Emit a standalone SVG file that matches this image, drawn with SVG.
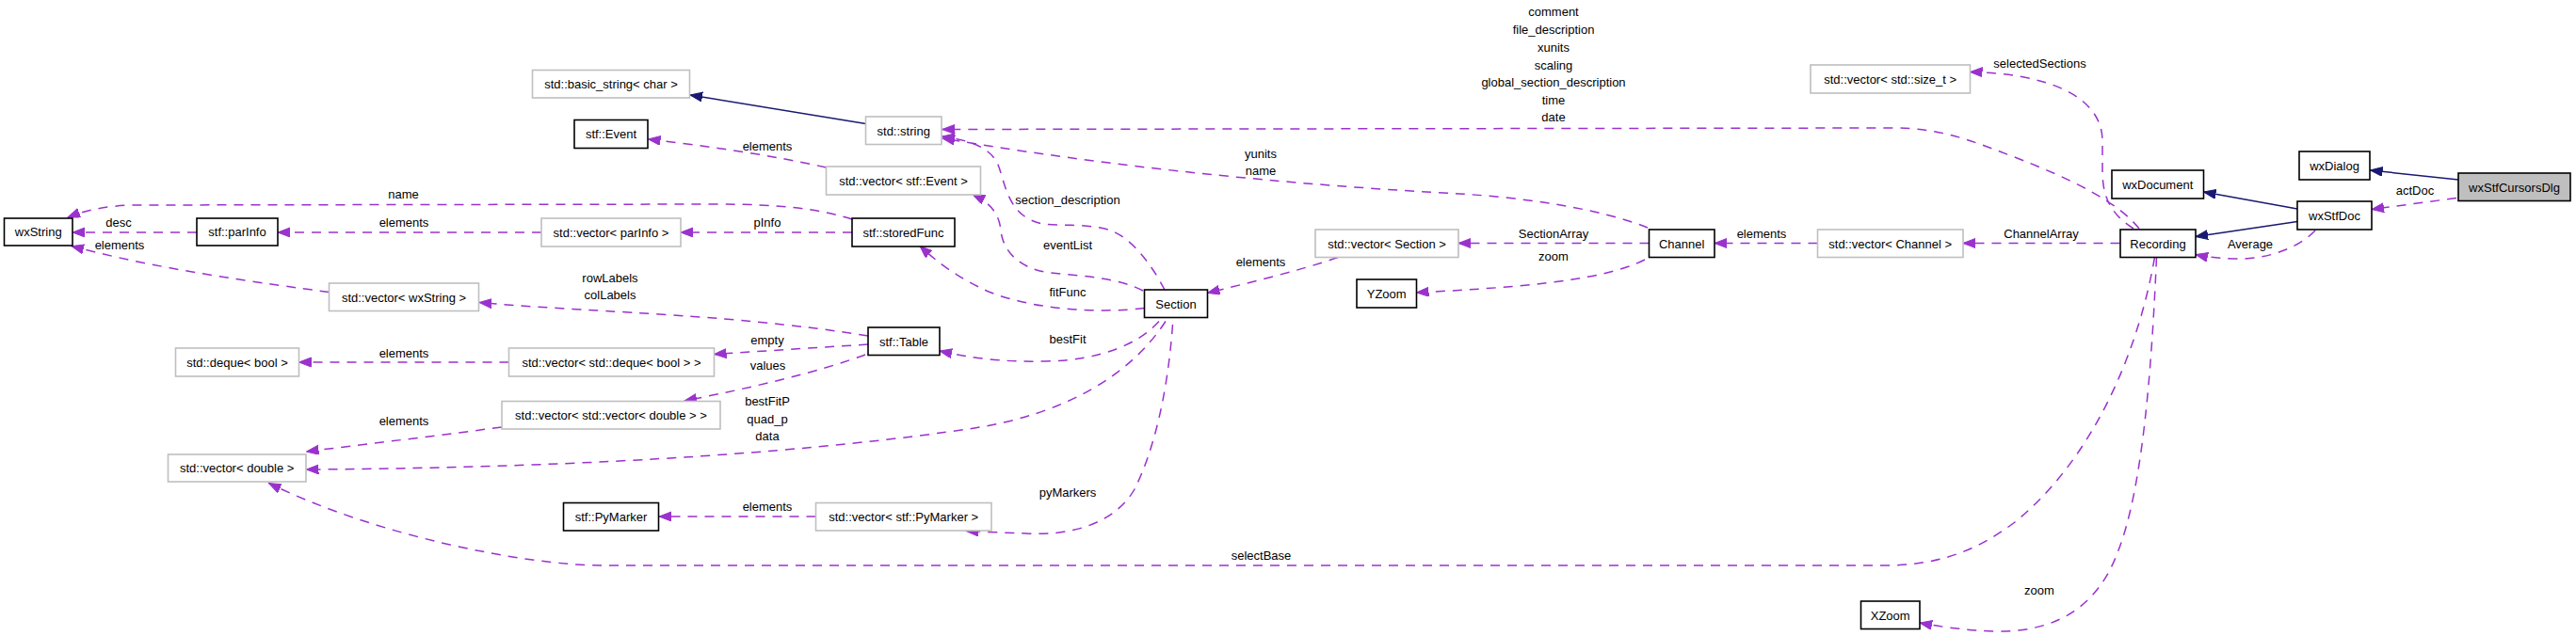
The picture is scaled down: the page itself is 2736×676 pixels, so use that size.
<svg xmlns="http://www.w3.org/2000/svg" width="2736" height="676" viewBox="0 0 2736 676">
<style>
text{font-family:"Liberation Sans",Arial,sans-serif;font-size:13px;fill:#000;text-anchor:middle}
.d rect{fill:#fff;stroke:#000;stroke-width:1.6}
.g rect{fill:#fff;stroke:#bfbfbf;stroke-width:1.6}
.cur rect{fill:#bfbfbf;stroke:#000;stroke-width:1.6}
.u{fill:none;stroke:#9a32cd;stroke-width:1.5;stroke-dasharray:10,8;marker-end:url(#pa)}
.i{fill:none;stroke:#191970;stroke-width:1.5;marker-end:url(#ba)}
</style>
<defs>
<marker id="pa" markerUnits="userSpaceOnUse" markerWidth="14" markerHeight="11" refX="13" refY="5" orient="auto"><path d="M0,0 L13,5 L0,10 Z" fill="#9a32cd" stroke="#9a32cd" stroke-width="1"/></marker>
<marker id="ba" markerUnits="userSpaceOnUse" markerWidth="14" markerHeight="11" refX="13" refY="5" orient="auto"><path d="M0,0 L13,5 L0,10 Z" fill="#191970" stroke="#191970" stroke-width="1"/></marker>
</defs>
<rect width="2736" height="676" fill="#fff"/>
<g id="edges">
<path class="i" d="M2611,191 L2517.5,181"/>
<path class="u" d="M2609,210.5 L2519,222.5"/>
<path class="i" d="M2440,222 L2340.5,204"/>
<path class="i" d="M2440,235.5 L2332,251.5"/>
<path class="u" d="M2459,245 C2440,265 2405,276 2375,275 C2355,274.5 2343,273 2332,270.5"/>
<path class="u" d="M2251.5,258.5 L2085,258.5"/>
<path class="u" d="M1930.5,258.5 L1821,258.5"/>
<path class="u" d="M1751.5,258.5 L1549,258.5"/>
<path class="u" d="M1421,273.5 C1380,288 1320,302 1282.5,311.5"/>
<path class="u" d="M1747,276 C1700,300 1600,306 1504.5,311"/>
<path class="u" d="M1750,242 C1700,222 1620,210 1550,206 C1400,198 1200,181 1001,147"/>
<path class="u" d="M2272,243 C2250,215 2200,190 2137,166 C2090,148 2060,136 2010,136 L1001,137.5"/>
<path class="u" d="M2266,243 C2238,225 2233,205 2233,180 L2233,150 C2233,100 2170,78 2092.5,76.5"/>
<path class="u" d="M2288.5,273.5 C2270,380 2220,490 2140,555 C2100,585 2060,601 2000,601 L640,601 C560,601 400,570 285.5,513.5"/>
<path class="u" d="M2290.5,273.5 C2285,400 2275,520 2250,585 C2230,640 2190,672 2120,671 C2090,670 2065,667 2039,662"/>
<path class="u" d="M1237,308 C1225,285 1205,255 1180,245 C1160,238 1130,240 1107,238 C1070,230 1068,195 1060,175 C1052,158 1035,150 1001,145"/>
<path class="u" d="M1214,309 C1190,296 1150,293 1115,290 C1080,285 1065,265 1063,245 C1061,225 1050,215 1033,206.5"/>
<path class="u" d="M1215.5,327.5 C1170,333 1100,330 1050,310 C1015,294 995,278 977,261.5"/>
<path class="u" d="M905,247 L723,247"/>
<path class="u" d="M575,247 L295,247"/>
<path class="u" d="M209,247 L77,247"/>
<path class="u" d="M905,233 C870,222 830,217 760,217 L140,218 C110,219 90,224 72,231"/>
<path class="u" d="M349.5,310.5 C280,301 170,287 76,261.5"/>
<path class="u" d="M922,357 C880,350 800,340 700,334 C620,329 560,326 509,321.5"/>
<path class="u" d="M922,366 L758.5,376.5"/>
<path class="u" d="M919,377 C870,395 800,412 727,426"/>
<path class="u" d="M1231,341.5 C1210,365 1170,383 1110,384 C1060,385 1030,380 998,373"/>
<path class="u" d="M1238,341.5 C1200,400 1130,440 1035,455 C880,478 650,497 325.5,499"/>
<path class="u" d="M1245.5,345 C1240,420 1225,480 1205,520 C1185,555 1140,570 1090,567 C1060,566 1040,565 1026,564.5"/>
<path class="u" d="M866.5,549 L700,549"/>
<path class="u" d="M533,454 C450,465 380,473 325.5,480"/>
<path class="u" d="M540.5,385 L317.5,385"/>
<path class="u" d="M877.5,178 C820,165 750,155 688.5,148"/>
<path class="i" d="M919.5,131.5 L733,101"/>
<text x="428.6" y="211">name</text>
<text x="126" y="240.5">desc</text>
<text x="429" y="240.5">elements</text>
<text x="127" y="264.5">elements</text>
<text x="648" y="299.5">rowLabels</text>
<text x="648" y="317.5">colLabels</text>
<text x="429" y="379.5">elements</text>
<text x="429" y="452">elements</text>
<text x="815" y="160">elements</text>
<text x="815" y="240.5">pInfo</text>
<text x="1134" y="216.5">section_description</text>
<text x="1134" y="265">eventList</text>
<text x="1134" y="315">fitFunc</text>
<text x="1134" y="364.5">bestFit</text>
<text x="815" y="365.5">empty</text>
<text x="815.5" y="393">values</text>
<text x="815" y="430.5">bestFitP</text>
<text x="815" y="449.5">quad_p</text>
<text x="815" y="468">data</text>
<text x="815" y="543">elements</text>
<text x="1134" y="528">pyMarkers</text>
<text x="1339.5" y="595">selectBase</text>
<text x="1650" y="17">comment</text>
<text x="1650" y="36">file_description</text>
<text x="1650" y="55">xunits</text>
<text x="1650" y="73.5">scaling</text>
<text x="1650" y="92">global_section_description</text>
<text x="1650" y="111">time</text>
<text x="1650" y="129">date</text>
<text x="1339" y="167.5">yunits</text>
<text x="1339" y="185.5">name</text>
<text x="1650" y="252.5">SectionArray</text>
<text x="1650" y="276.5">zoom</text>
<text x="1871" y="252.5">elements</text>
<text x="1339" y="283">elements</text>
<text x="2166.5" y="72">selectedSections</text>
<text x="2565" y="207">actDoc</text>
<text x="2168" y="252.5">ChannelArray</text>
<text x="2390" y="264">Average</text>
<text x="2166" y="632">zoom</text>
</g>
<g id="wxStfCursorsDlg" class="cur"><rect x="2611" y="184" width="119" height="29.5"/><text x="2670.5" y="203.5">wxStfCursorsDlg</text></g>
<g id="wxDialog" class="d"><rect x="2442" y="161" width="75" height="30"/><text x="2479.5" y="180.5">wxDialog</text></g>
<g id="wxStfDoc" class="d"><rect x="2440" y="214" width="79" height="30"/><text x="2479.5" y="233.5">wxStfDoc</text></g>
<g id="wxDocument" class="d"><rect x="2243" y="181" width="97.5" height="30"/><text x="2291.7" y="200.5">wxDocument</text></g>
<g id="Recording" class="d"><rect x="2252" y="244" width="80" height="29.5"/><text x="2292" y="263.5">Recording</text></g>
<g id="vector_size_t" class="g"><rect x="1923" y="69" width="169.5" height="30"/><text x="2007.7" y="88.5">std::vector&lt; std::size_t &gt;</text></g>
<g id="vector_Channel" class="g"><rect x="1930.5" y="244" width="154.5" height="29.5"/><text x="2007.7" y="263.5">std::vector&lt; Channel &gt;</text></g>
<g id="Channel" class="d"><rect x="1751.5" y="244" width="69.5" height="29.5"/><text x="1786.2" y="263.5">Channel</text></g>
<g id="vector_Section" class="g"><rect x="1397" y="244" width="152" height="29.5"/><text x="1473" y="263.5">std::vector&lt; Section &gt;</text></g>
<g id="YZoom" class="d"><rect x="1441" y="297" width="63.5" height="30"/><text x="1472.7" y="316.5">YZoom</text></g>
<g id="XZoom" class="d"><rect x="1976.5" y="639" width="62.5" height="29.5"/><text x="2007.7" y="658.5">XZoom</text></g>
<g id="Section" class="d"><rect x="1215.5" y="308" width="67" height="29.5"/><text x="1249" y="327.5">Section</text></g>
<g id="std_string" class="g"><rect x="919.5" y="124" width="80.5" height="29.5"/><text x="959.7" y="143.5">std::string</text></g>
<g id="basic_string" class="g"><rect x="565.5" y="74.5" width="167" height="29.5"/><text x="649" y="94">std::basic_string&lt; char &gt;</text></g>
<g id="stf_Event" class="d"><rect x="610" y="127.5" width="78" height="30"/><text x="649" y="147">stf::Event</text></g>
<g id="vector_Event" class="g"><rect x="877.5" y="177" width="164" height="30"/><text x="959.5" y="196.5">std::vector&lt; stf::Event &gt;</text></g>
<g id="storedFunc" class="d"><rect x="905" y="232" width="109" height="30"/><text x="959.5" y="251.5">stf::storedFunc</text></g>
<g id="vector_parInfo" class="g"><rect x="575" y="232" width="148" height="30"/><text x="649" y="251.5">std::vector&lt; parInfo &gt;</text></g>
<g id="parInfo" class="d"><rect x="209" y="232" width="86" height="29"/><text x="252" y="251">stf::parInfo</text></g>
<g id="wxString" class="d"><rect x="4.5" y="232" width="72.5" height="29"/><text x="40.7" y="251">wxString</text></g>
<g id="vector_wxString" class="g"><rect x="349.5" y="301" width="159" height="29.5"/><text x="429" y="320.5">std::vector&lt; wxString &gt;</text></g>
<g id="stf_Table" class="d"><rect x="922" y="348" width="76" height="29.5"/><text x="960" y="367.5">stf::Table</text></g>
<g id="vector_deque" class="g"><rect x="540.5" y="370" width="218" height="30"/><text x="649.5" y="389.5">std::vector&lt; std::deque&lt; bool &gt; &gt;</text></g>
<g id="deque_bool" class="g"><rect x="186.5" y="370" width="131" height="30"/><text x="252" y="389.5">std::deque&lt; bool &gt;</text></g>
<g id="vector_vector_double" class="g"><rect x="533" y="426.5" width="232" height="29.5"/><text x="649" y="446">std::vector&lt; std::vector&lt; double &gt; &gt;</text></g>
<g id="vector_double" class="g"><rect x="178.5" y="483" width="146.5" height="29"/><text x="251.7" y="502">std::vector&lt; double &gt;</text></g>
<g id="PyMarker" class="d"><rect x="598.5" y="534.5" width="101" height="29.5"/><text x="649" y="554">stf::PyMarker</text></g>
<g id="vector_PyMarker" class="g"><rect x="866.5" y="534.5" width="186.5" height="29.5"/><text x="959.7" y="554">std::vector&lt; stf::PyMarker &gt;</text></g>
</svg>
